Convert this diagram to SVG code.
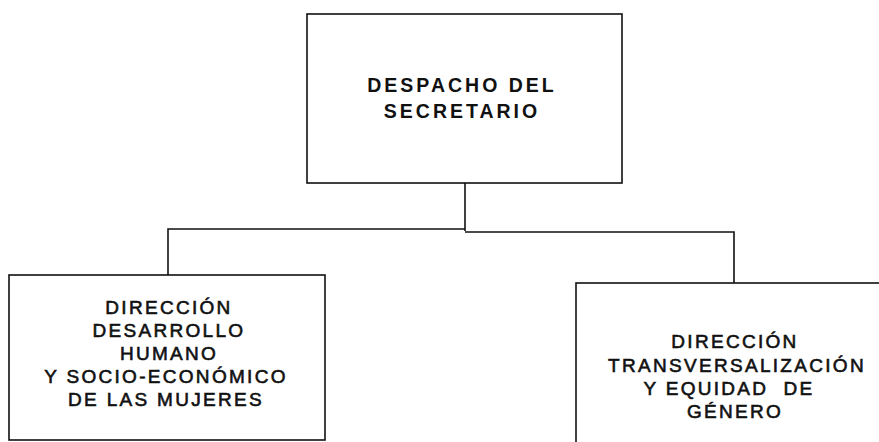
<svg xmlns="http://www.w3.org/2000/svg" width="879" height="442" viewBox="0 0 879 442">
<style>
.box{fill:#fff;stroke:#111;stroke-width:1.6}
.conn{fill:none;stroke:#111;stroke-width:1.6}
.t{font-family:"Liberation Sans",Arial,sans-serif;fill:#111;text-anchor:middle}
.big{font-size:19.5px;font-weight:bold;letter-spacing:3px}
.sm{font-size:19px;letter-spacing:2.3px;stroke:#111;stroke-width:0.6}
</style>
<rect width="879" height="442" fill="#fff"/>
<g id="connectors">
<path class="conn" d="M465 183 V231"/>
<path class="conn" d="M168 275 V229 H465" stroke-width="2.4"/>
<path class="conn" d="M465 232 H734 V283"/>
</g>
<g id="despacho">
<rect class="box" x="307" y="14" width="315" height="169"/>
<text class="t big" x="462" y="92">DESPACHO DEL</text>
<text class="t big" x="462" y="118">SECRETARIO</text>
</g>
<g id="desarrollo">
<rect class="box" x="9" y="275" width="316" height="165"/>
<text class="t sm"><tspan x="169" y="314">DIRECCIÓN</tspan><tspan x="169" y="337">DESARROLLO</tspan><tspan x="169" y="360">HUMANO</tspan><tspan x="166" y="383">Y SOCIO-ECONÓMICO</tspan><tspan x="166" y="406">DE LAS MUJERES</tspan></text>
</g>
<g id="transversalizacion">
<rect class="box" x="576" y="283" width="310" height="170"/>
<text class="t sm" xml:space="preserve"><tspan x="735" y="348">DIRECCIÓN</tspan><tspan x="737" y="372">TRANSVERSALIZACIÓN</tspan><tspan x="729" y="395">Y EQUIDAD  DE</tspan><tspan x="735" y="418">GÉNERO</tspan></text>
</g>
</svg>
